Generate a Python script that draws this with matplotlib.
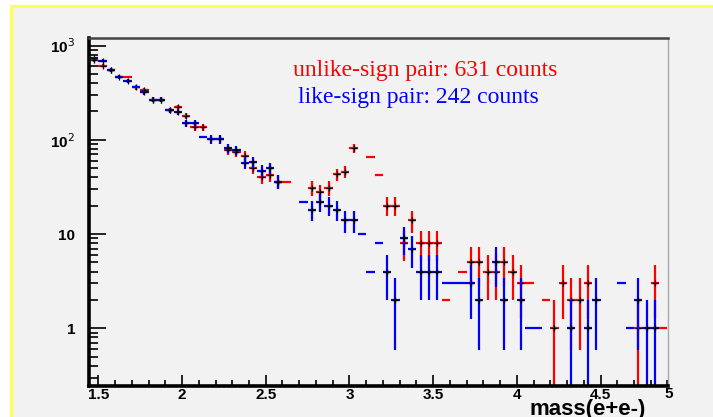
import numpy as np
import matplotlib.pyplot as plt
from matplotlib.patches import Rectangle
from matplotlib.ticker import FixedLocator, NullFormatter

# pair mass histograms, 0.05 wide bins starting at 1.45
bin_lo = 1.45
bin_w = 0.05

unlike = [700, 610, 550, 460, 460, 360, 340, 265, 265, 205,
          220, 180, 137, 137, 101, 101, 78, 74, 68, 50,
          40, 42, 36, 36, 0, 0, 31, 28, 31, 43,
          46, 81, 0, 65, 42, 20, 20, 8, 14, 8,
          8, 8, 2, 0, 4, 5, 5, 4, 4, 5,
          4, 3, 3, 0, 2, 1, 3, 2, 2, 3,
          0, 0, 0, 0, 0, 1, 0, 3, 1]
like = [730, 690, 550, 460, 420, 360, 320, 265, 265, 205,
        195, 150, 149, 107, 101, 101, 81, 78, 57, 58,
        47, 50, 36, 0, 0, 22, 18, 22, 20, 18,
        14, 14, 10, 4, 8, 4, 2, 9, 7, 4,
        4, 4, 3, 3, 3, 3, 2, 0, 5, 2,
        0, 2, 1, 1, 0, 0, 0, 1, 0, 1,
        2, 0, 0, 3, 1, 2, 1, 1, 0]

# bins drawn with the bin-width bar only
unlike_bar_only = [3, 4, 14, 15, 23, 33, 34, 42, 44, 52, 54, 68]
like_bar_only = [5, 13, 25, 32, 33, 34, 42, 43, 44, 52, 53, 63, 64]

x_ticks = [1.5, 2, 2.5, 3, 3.5, 4, 4.5]
x_labels = ['1.5', '2', '2.5', '3', '3.5', '4', '4.5']
y_ticks = [1, 10, 100, 1000]
y_labels = ['1', '10', r'10$^{2}$', r'10$^{3}$']

W, H = 713, 417
fig = plt.figure(figsize=(W / 100, H / 100), dpi=100)
fig.patch.set_facecolor('white')
pad = Rectangle((11 / W, -0.05), 1.1, 1 - 6 / H + 0.05,
                transform=fig.transFigure, facecolor='#f2f2f2',
                edgecolor='#ffff55', linewidth=2.2, zorder=-5)
fig.add_artist(pad)

ax = fig.add_axes([89 / W, (H - 385.7) / H, (668.3 - 89) / W, (385.7 - 37.7) / H])
ax.set_facecolor('#f2f2f2')
ax.set_yscale('log', nonpositive='clip')
ax.set_xlim(1.444, 4.905)
ax.set_ylim(0.246, 1210)


def draw_hist(counts, bar_only, color):
    counts = np.array(counts, dtype=float)
    centers = bin_lo + bin_w * (np.arange(len(counts)) + 0.5)
    err = np.sqrt(counts)
    err[bar_only] = 0
    keep = counts > 0
    lo = np.minimum(err, counts - 1e-4)
    ax.errorbar(centers[keep], counts[keep], xerr=bin_w / 2,
                yerr=[lo[keep], err[keep]], fmt='none', ecolor=color,
                elinewidth=1.6, capsize=0)
    mark = keep & (err > 0)
    ax.plot(centers[mark], counts[mark], '+', color='black', ms=4, mew=0.9)


draw_hist(unlike, unlike_bar_only, '#ff0000')
draw_hist(like, like_bar_only, '#0000ff')

ax.xaxis.set_major_locator(FixedLocator(x_ticks))
ax.set_xticklabels(x_labels)
ax.xaxis.set_minor_locator(FixedLocator(np.arange(1.5, 4.91, 0.1)))
ax.yaxis.set_major_locator(FixedLocator(y_ticks))
ax.set_yticklabels(y_labels)
minor_y = [m * 10.0 ** e for e in range(-1, 4) for m in range(2, 10)]
ax.yaxis.set_minor_locator(FixedLocator([v for v in minor_y if 0.246 < v < 1210]))
ax.yaxis.set_minor_formatter(NullFormatter())

lab_font = dict(family='Liberation Sans', weight='bold', size=11)
for lab in ax.get_xticklabels() + ax.get_yticklabels():
    lab.set_fontproperties(lab_font)
ax.tick_params(axis='x', which='major', direction='in', length=8, width=1.2, pad=2)
ax.tick_params(axis='x', which='minor', direction='in', length=4, width=1.2)
ax.tick_params(axis='y', which='major', direction='in', length=12.5, width=1.2, pad=10)
ax.tick_params(axis='y', which='minor', direction='in', length=6.5, width=1.2)

ax.spines['left'].set_linewidth(2.6)
ax.spines['bottom'].set_linewidth(2.6)
ax.spines['top'].set_linewidth(1.8)
ax.spines['top'].set_color('#444444')
ax.spines['right'].set_linewidth(1.0)
ax.spines['right'].set_color('#a8a8a8')

# end label of the mass axis
ax.text(1.0, -0.004, '5', transform=ax.transAxes, ha='center', va='top',
        fontproperties=lab_font)
fig.text(646 / W, 1 - 415 / H, 'mass(e+e-)', ha='right', va='baseline',
         family='Liberation Sans', weight='bold', size=16)

ax.text(0.353, 0.905, 'unlike-sign pair: 631 counts', transform=ax.transAxes,
        color='#ff0000', family='Liberation Serif', size=17, va='center')
ax.text(0.360, 0.828, 'like-sign pair: 242 counts', transform=ax.transAxes,
        color='#0000ff', family='Liberation Serif', size=17, va='center')

fig.savefig('out.png', dpi=100)
